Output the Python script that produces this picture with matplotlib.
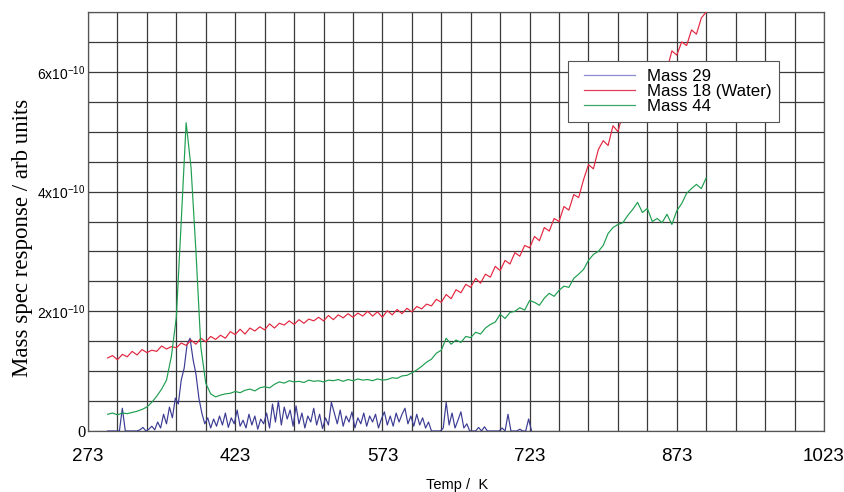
import matplotlib
matplotlib.use("Agg")
import matplotlib.pyplot as plt
from matplotlib.lines import Line2D
from matplotlib.legend_handler import HandlerLine2D
import numpy as np

# readings in units of 1e-10, temperature grids start at 293 K
red_step = 5
mass18 = [1.22, 1.26, 1.19, 1.28, 1.24, 1.33, 1.27, 1.36, 1.31, 1.35,
          1.33, 1.42, 1.37, 1.41, 1.39, 1.47, 1.43, 1.52, 1.45, 1.55,
          1.49, 1.58, 1.53, 1.60, 1.55, 1.66, 1.61, 1.70, 1.62, 1.72,
          1.67, 1.74, 1.69, 1.79, 1.72, 1.80, 1.77, 1.84, 1.78, 1.86,
          1.80, 1.87, 1.84, 1.90, 1.84, 1.93, 1.86, 1.94, 1.89, 1.96,
          1.90, 1.97, 1.92, 2.00, 1.92, 1.99, 1.90, 2.01, 1.94, 2.03,
          1.96, 2.05, 1.99, 2.08, 2.04, 2.12, 2.09, 2.20, 2.15, 2.28,
          2.21, 2.36, 2.31, 2.45, 2.40, 2.55, 2.47, 2.62, 2.57, 2.75,
          2.68, 2.85, 2.79, 2.98, 2.92, 3.10, 3.06, 3.25, 3.18, 3.40,
          3.34, 3.55, 3.50, 3.75, 3.69, 3.95, 3.90, 4.20, 4.45, 4.38,
          4.70, 4.85, 4.77, 5.10, 5.00, 5.30, 5.22, 5.50, 5.44, 5.70,
          5.63, 5.90, 5.86, 6.10, 6.04, 6.35, 6.28, 6.50, 6.44, 6.70,
          6.63, 6.90, 7.00]

mass44 = [0.28, 0.30, 0.27, 0.30, 0.29, 0.31, 0.33, 0.36, 0.40, 0.48,
          0.58, 0.70, 0.85, 1.25, 1.90, 3.50, 5.15, 4.40, 3.00, 1.40,
          0.80, 0.62, 0.57, 0.60, 0.62, 0.63, 0.66, 0.64, 0.68, 0.70,
          0.67, 0.72, 0.74, 0.72, 0.78, 0.82, 0.80, 0.84, 0.82, 0.83,
          0.81, 0.85, 0.83, 0.84, 0.82, 0.85, 0.84, 0.86, 0.83, 0.86,
          0.84, 0.87, 0.85, 0.86, 0.84, 0.87, 0.85, 0.86, 0.89, 0.88,
          0.92, 0.93, 0.97, 1.02, 1.08, 1.15, 1.20, 1.30, 1.35, 1.55,
          1.45, 1.52, 1.48, 1.58, 1.56, 1.65, 1.62, 1.72, 1.78, 1.82,
          1.95, 1.88, 1.98, 2.00, 2.06, 2.02, 2.18, 2.15, 2.10, 2.22,
          2.30, 2.25, 2.35, 2.42, 2.40, 2.55, 2.62, 2.70, 2.85, 2.95,
          3.00, 3.10, 3.30, 3.40, 3.45, 3.48, 3.60, 3.70, 3.82, 3.65,
          3.72, 3.50, 3.55, 3.48, 3.62, 3.45, 3.68, 3.80, 3.97, 4.05,
          4.12, 4.05, 4.23]

blue_step = 3
mass29 = [0.00, 0.00, 0.00, 0.00, 0.00, 0.38, 0.00, 0.00, 0.00, 0.00,
          0.00, 0.02, 0.06, 0.00, 0.03, 0.08, 0.02, 0.15, 0.05, 0.28,
          0.12, 0.40, 0.22, 0.55, 0.45, 0.85, 1.05, 1.45, 1.55, 1.20,
          0.95, 0.55, 0.30, 0.12, 0.22, 0.05, 0.20, 0.08, 0.25, 0.10,
          0.30, 0.06, 0.22, 0.12, 0.35, 0.08, 0.18, 0.05, 0.28, 0.10,
          0.25, 0.03, 0.20, 0.12, 0.30, 0.05, 0.45, 0.15, 0.50, 0.10,
          0.40, 0.20, 0.35, 0.08, 0.42, 0.12, 0.30, 0.05, 0.25, 0.15,
          0.38, 0.10, 0.28, 0.04, 0.22, 0.10, 0.48, 0.30, 0.12, 0.35,
          0.08, 0.25, 0.15, 0.32, 0.05, 0.22, 0.12, 0.30, 0.08, 0.25,
          0.15, 0.28, 0.05, 0.20, 0.32, 0.10, 0.25, 0.08, 0.30, 0.15,
          0.28, 0.38, 0.12, 0.25, 0.08, 0.28, 0.10, 0.22, 0.05, 0.15,
          0.00, 0.00, 0.00, 0.00, 0.05, 0.48, 0.10, 0.30, 0.05, 0.18,
          0.32, 0.05, 0.12, 0.00, 0.00, 0.00, 0.06, 0.00, 0.07, 0.00,
          0.00, 0.00, 0.00, 0.00, 0.05, 0.00, 0.28, 0.00, 0.00, 0.00,
          0.03, 0.00, 0.00, 0.20, 0.00]

series_names = ["Mass 29", "Mass 18 (Water)", "Mass 44"]
ytick_vals = [0, 2, 4, 6]
ytick_labels = ["0", "2x10$^{-10}$", "4x10$^{-10}$", "6x10$^{-10}$"]
xtick_vals = [273, 423, 573, 723, 873, 1023]

t_red = np.arange(len(mass18)) * red_step + 293
t_grn = np.arange(len(mass44)) * red_step + 293
t_blu = np.arange(len(mass29)) * blue_step + 293

c_blue = "#3b3b94"
c_red = "#e3263f"
c_green = "#1d9e4f"

plt.rcParams['font.family'] = ['Liberation Sans', 'DejaVu Sans']
plt.rcParams['mathtext.fontset'] = 'custom'
plt.rcParams['mathtext.rm'] = 'Liberation Sans'
plt.rcParams['mathtext.it'] = 'Liberation Sans'
fig = plt.figure(figsize=(8.44, 4.92), dpi=100)
ax = fig.add_axes([88 / 844, 61 / 492, 736 / 844, 419 / 492])

ax.plot(t_blu, mass29, color=c_blue, lw=0.85, zorder=3)
ax.plot(t_red, mass18, color=c_red, lw=0.85, zorder=4)
ax.plot(t_grn, mass44, color=c_green, lw=0.85, zorder=5)

ax.set_xlim(273, 1023)
ax.set_ylim(0, 7)
ax.set_xticks(xtick_vals)
ax.set_xticks(np.arange(273, 1024, 30), minor=True)
ax.set_yticks(ytick_vals)
ax.set_yticks(np.arange(0, 7.01, 0.5), minor=True)
ax.set_xticklabels([str(v) for v in xtick_vals], fontsize=13.5)
ax.set_yticklabels(ytick_labels, fontsize=10)
ax.get_yticklabels()[0].set_fontfamily('Liberation Serif')
ax.get_yticklabels()[0].set_fontsize(12)
ax.tick_params(which='both', length=0)
ax.tick_params(axis='x', pad=12)
ax.tick_params(axis='y', pad=2)
ax.grid(which='both', color='#3a3a3a', lw=0.9)
ax.set_axisbelow(True)
for s in ax.spines.values():
    s.set_color('#555555')
    s.set_linewidth(0.9)

ax.set_ylabel("Mass spec response / arb units", family='Liberation Serif',
              fontsize=16.5)
ax.yaxis.set_label_coords(-55 / 736, 0.46)
fig.text(457 / 844, 1 - 485 / 492, "Temp /  K", fontsize=10.5,
         ha='center', va='center')

handles = [Line2D([], [], color="#8c8cd0", lw=0.9),
           Line2D([], [], color="#e0405c", lw=0.9),
           Line2D([], [], color="#3aa86a", lw=0.9)]
leg = ax.legend(handles, series_names, loc='upper left',
                bbox_to_anchor=(568 / 844, 1 - 61 / 492),
                bbox_transform=fig.transFigure, fontsize=12.2,
                frameon=True, fancybox=False, framealpha=1,
                handlelength=4.0, handletextpad=0.2, labelspacing=0.02,
                borderpad=0.45, borderaxespad=0,
                handler_map={Line2D: HandlerLine2D(marker_pad=0.5, numpoints=2)})
leg.get_frame().set_edgecolor('#555555')
leg.get_frame().set_linewidth(0.8)
leg.set_zorder(10)

fig.savefig("out.png", dpi=100)
